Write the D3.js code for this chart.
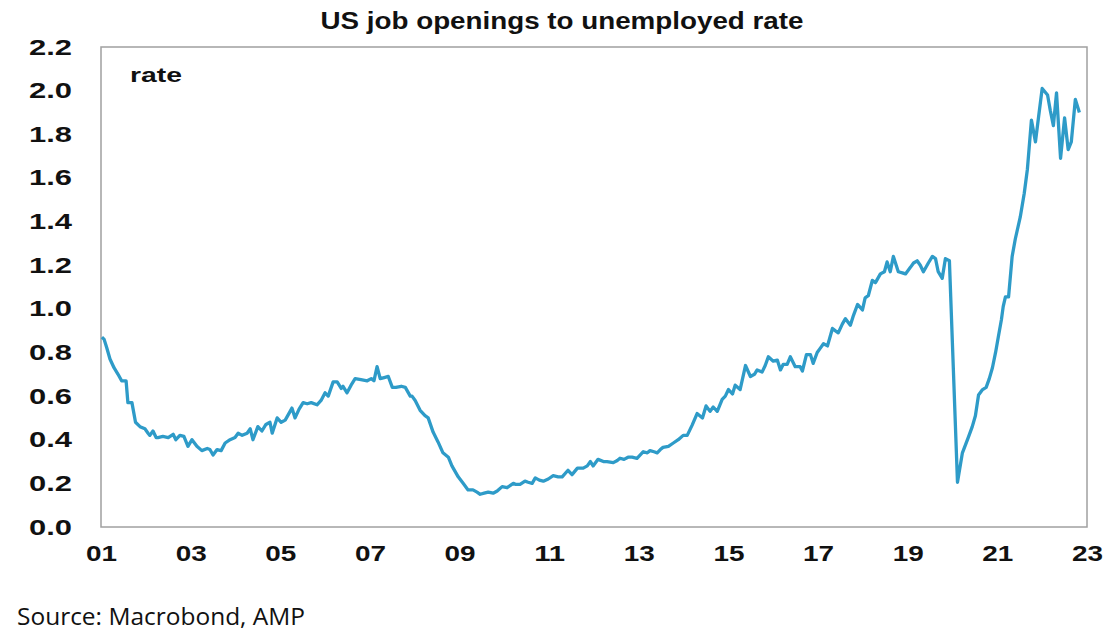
<!DOCTYPE html>
<html>
<head>
<meta charset="utf-8">
<script src="https://cdn.jsdelivr.net/npm/d3@7"></script>
<style>
  body { margin: 0; background: #fff; }
  svg { display: block; }
</style>
</head>
<body>
<div id="chart"></div>
<script>
// Dates as decimal years
const dates = [
  2001.02, 2001.07, 2001.13, 2001.20, 2001.29, 2001.38, 2001.46, 2001.56, 2001.60, 2001.69,
  2001.77, 2001.87, 2001.98, 2002.05, 2002.09, 2002.16, 2002.23, 2002.27, 2002.38, 2002.50,
  2002.61, 2002.67, 2002.76, 2002.85, 2002.94, 2003.03, 2003.14, 2003.25, 2003.37, 2003.43,
  2003.50, 2003.59, 2003.68, 2003.77, 2003.88, 2003.99, 2004.06, 2004.15, 2004.26, 2004.33,
  2004.39, 2004.50, 2004.59, 2004.68, 2004.77, 2004.82, 2004.93, 2005.02, 2005.11, 2005.22,
  2005.26, 2005.33, 2005.42, 2005.51, 2005.60, 2005.69, 2005.82, 2005.91, 2006.00, 2006.07,
  2006.18, 2006.27, 2006.36, 2006.40, 2006.49, 2006.58, 2006.67, 2006.80, 2006.94, 2007.03,
  2007.09, 2007.16, 2007.23, 2007.32, 2007.41, 2007.50, 2007.58, 2007.70, 2007.79, 2007.90,
  2007.94, 2008.01, 2008.12, 2008.23, 2008.30, 2008.41, 2008.52, 2008.63, 2008.75, 2008.83,
  2008.97, 2009.08, 2009.19, 2009.30, 2009.39, 2009.46, 2009.55, 2009.64, 2009.75, 2009.84,
  2009.95, 2010.06, 2010.20, 2010.26, 2010.35, 2010.46, 2010.53, 2010.62, 2010.69, 2010.78,
  2010.87, 2010.98, 2011.09, 2011.20, 2011.29, 2011.42, 2011.51, 2011.63, 2011.76, 2011.85,
  2011.92, 2011.98, 2012.09, 2012.21, 2012.29, 2012.43, 2012.52, 2012.58, 2012.67, 2012.76,
  2012.85, 2012.96, 2013.10, 2013.19, 2013.25, 2013.34, 2013.41, 2013.48, 2013.54, 2013.66,
  2013.77, 2013.88, 2013.99, 2014.08, 2014.19, 2014.30, 2014.42, 2014.50, 2014.59, 2014.66,
  2014.75, 2014.86, 2014.93, 2015.00, 2015.09, 2015.15, 2015.26, 2015.38, 2015.49, 2015.58,
  2015.64, 2015.75, 2015.82, 2015.89, 2016.00, 2016.09, 2016.16, 2016.22, 2016.31, 2016.38,
  2016.49, 2016.60, 2016.65, 2016.74, 2016.83, 2016.89, 2016.98, 2017.05, 2017.12, 2017.21,
  2017.32, 2017.38, 2017.45, 2017.54, 2017.61, 2017.72, 2017.79, 2017.88, 2017.99, 2018.05,
  2018.12, 2018.21, 2018.28, 2018.39, 2018.48, 2018.54, 2018.61, 2018.68, 2018.79, 2018.88,
  2018.95, 2019.06, 2019.13, 2019.21, 2019.28, 2019.35, 2019.46, 2019.55, 2019.62, 2019.68,
  2019.77, 2019.84, 2019.93, 2020.11, 2020.22, 2020.35, 2020.44, 2020.51, 2020.58, 2020.67,
  2020.75, 2020.82, 2020.89, 2020.96, 2021.02, 2021.09, 2021.13, 2021.18, 2021.25, 2021.33,
  2021.40, 2021.51, 2021.60, 2021.67, 2021.76, 2021.85, 2021.92, 2022.00, 2022.12, 2022.18,
  2022.25, 2022.32, 2022.41, 2022.50, 2022.58, 2022.65, 2022.74, 2022.83
];

const ratio = [
  0.87, 0.86, 0.82, 0.77, 0.73, 0.70, 0.67, 0.67, 0.57, 0.57,
  0.48, 0.46, 0.45, 0.43, 0.42, 0.44, 0.41, 0.41, 0.415, 0.41,
  0.425, 0.40, 0.42, 0.415, 0.37, 0.40, 0.37, 0.35, 0.36, 0.355,
  0.33, 0.355, 0.35, 0.385, 0.40, 0.41, 0.43, 0.42, 0.43, 0.45,
  0.40, 0.46, 0.44, 0.47, 0.48, 0.43, 0.50, 0.48, 0.49, 0.53,
  0.545, 0.50, 0.54, 0.57, 0.565, 0.57, 0.56, 0.58, 0.615, 0.60,
  0.665, 0.665, 0.635, 0.645, 0.615, 0.65, 0.68, 0.675, 0.67, 0.68,
  0.67, 0.735, 0.68, 0.685, 0.69, 0.64, 0.64, 0.645, 0.64, 0.60,
  0.60, 0.58, 0.535, 0.51, 0.50, 0.435, 0.39, 0.34, 0.32, 0.28,
  0.23, 0.20, 0.17, 0.17, 0.16, 0.15, 0.155, 0.16, 0.155, 0.165,
  0.185, 0.18, 0.20, 0.195, 0.195, 0.21, 0.205, 0.20, 0.225, 0.215,
  0.21, 0.22, 0.235, 0.23, 0.23, 0.26, 0.24, 0.27, 0.27, 0.28,
  0.30, 0.28, 0.31, 0.30, 0.30, 0.295, 0.305, 0.315, 0.31, 0.32,
  0.32, 0.315, 0.345, 0.34, 0.35, 0.345, 0.34, 0.355, 0.365, 0.37,
  0.385, 0.40, 0.42, 0.42, 0.467, 0.52, 0.50, 0.555, 0.53, 0.55,
  0.53, 0.585, 0.60, 0.63, 0.61, 0.65, 0.63, 0.74, 0.69, 0.70,
  0.72, 0.71, 0.74, 0.78, 0.76, 0.765, 0.72, 0.745, 0.745, 0.78,
  0.735, 0.735, 0.715, 0.79, 0.79, 0.75, 0.80, 0.82, 0.84, 0.83,
  0.91, 0.90, 0.89, 0.93, 0.955, 0.925, 0.97, 1.02, 0.995, 1.05,
  1.06, 1.13, 1.12, 1.16, 1.17, 1.215, 1.17, 1.24, 1.17, 1.165,
  1.16, 1.19, 1.21, 1.22, 1.20, 1.17, 1.21, 1.24, 1.23, 1.17,
  1.14, 1.23, 1.22, 0.205, 0.34, 0.41, 0.46, 0.51, 0.605, 0.63,
  0.64, 0.68, 0.73, 0.80, 0.87, 0.95, 1.01, 1.055, 1.055, 1.24,
  1.32, 1.42, 1.53, 1.64, 1.865, 1.765, 1.88, 2.01, 1.98, 1.91,
  1.84, 1.99, 1.69, 1.875, 1.73, 1.765, 1.96, 1.90
];

const yTicks = [0, 0.2, 0.4, 0.6, 0.8, 1.0, 1.2, 1.4, 1.6, 1.8, 2.0, 2.2];
const xTicks = [2001, 2003, 2005, 2007, 2009, 2011, 2013, 2015, 2017, 2019, 2021, 2023];

const width = 1120;
const height = 641;
const margin = { top: 47, right: 33, bottom: 114, left: 101 };
const innerW = width - margin.left - margin.right;
const innerH = height - margin.top - margin.bottom;

const data = dates.map((d, i) => ({ t: d, v: ratio[i] }));

const svg = d3.select("#chart")
  .append("svg")
  .attr("width", width)
  .attr("height", height);

const x = d3.scaleLinear().domain([2001, 2023]).range([0, innerW]);
const y = d3.scaleLinear().domain([0, 2.2]).range([innerH, 0]);

const boldFont = "Liberation Sans, Arial, sans-serif";

// Title (the original is drawn slightly stretched sideways)
svg.append("text")
  .attr("x", 562)
  .attr("y", 29)
  .attr("text-anchor", "middle")
  .attr("font-family", boldFont)
  .attr("font-weight", "bold")
  .attr("font-size", "23px")
  .attr("textLength", 483)
  .attr("lengthAdjust", "spacingAndGlyphs")
  .attr("fill", "#111")
  .text("US job openings to unemployed rate");

const g = svg.append("g")
  .attr("transform", `translate(${margin.left}, ${margin.top})`);

// Plot frame
g.append("rect")
  .attr("x", 0)
  .attr("y", 0)
  .attr("width", innerW)
  .attr("height", innerH)
  .attr("fill", "none")
  .attr("stroke", "#a0a0a0")
  .attr("stroke-width", 1.5);

// Y axis labels
const yAxis = g.append("g")
  .call(d3.axisLeft(y).tickValues(yTicks).tickFormat(d3.format(".1f")).tickSize(0).tickPadding(29));
yAxis.select(".domain").remove();
yAxis.selectAll("text")
  .attr("font-family", boldFont)
  .attr("font-weight", "bold")
  .attr("font-size", "22px")
  .attr("textLength", 43)
  .attr("lengthAdjust", "spacingAndGlyphs")
  .attr("fill", "#111");

// X axis labels
const xAxis = g.append("g")
  .attr("transform", `translate(0, ${innerH})`)
  .call(d3.axisBottom(x).tickValues(xTicks).tickFormat(d => String(d % 100).padStart(2, "0")).tickSize(0).tickPadding(18));
xAxis.select(".domain").remove();
xAxis.selectAll("text")
  .attr("font-family", boldFont)
  .attr("font-weight", "bold")
  .attr("font-size", "22px")
  .attr("textLength", 31)
  .attr("lengthAdjust", "spacingAndGlyphs")
  .attr("fill", "#111");

// Unit label
g.append("text")
  .attr("x", 29)
  .attr("y", 35)
  .attr("font-family", boldFont)
  .attr("font-weight", "bold")
  .attr("font-size", "21px")
  .attr("textLength", 52)
  .attr("lengthAdjust", "spacingAndGlyphs")
  .attr("fill", "#111")
  .text("rate");

// Series line
const line = d3.line()
  .x(d => x(d.t))
  .y(d => y(d.v));

g.append("path")
  .datum(data)
  .attr("d", line)
  .attr("fill", "none")
  .attr("stroke", "#2e9bc8")
  .attr("stroke-width", 3.3)
  .attr("stroke-linejoin", "round");

// Source note
svg.append("text")
  .attr("x", 17)
  .attr("y", 625)
  .attr("font-family", "Open Sans, Noto Sans, sans-serif")
  .attr("font-size", "24px")
  .attr("textLength", 288)
  .attr("lengthAdjust", "spacingAndGlyphs")
  .attr("fill", "#111")
  .text("Source: Macrobond, AMP");
</script>
</body>
</html>
